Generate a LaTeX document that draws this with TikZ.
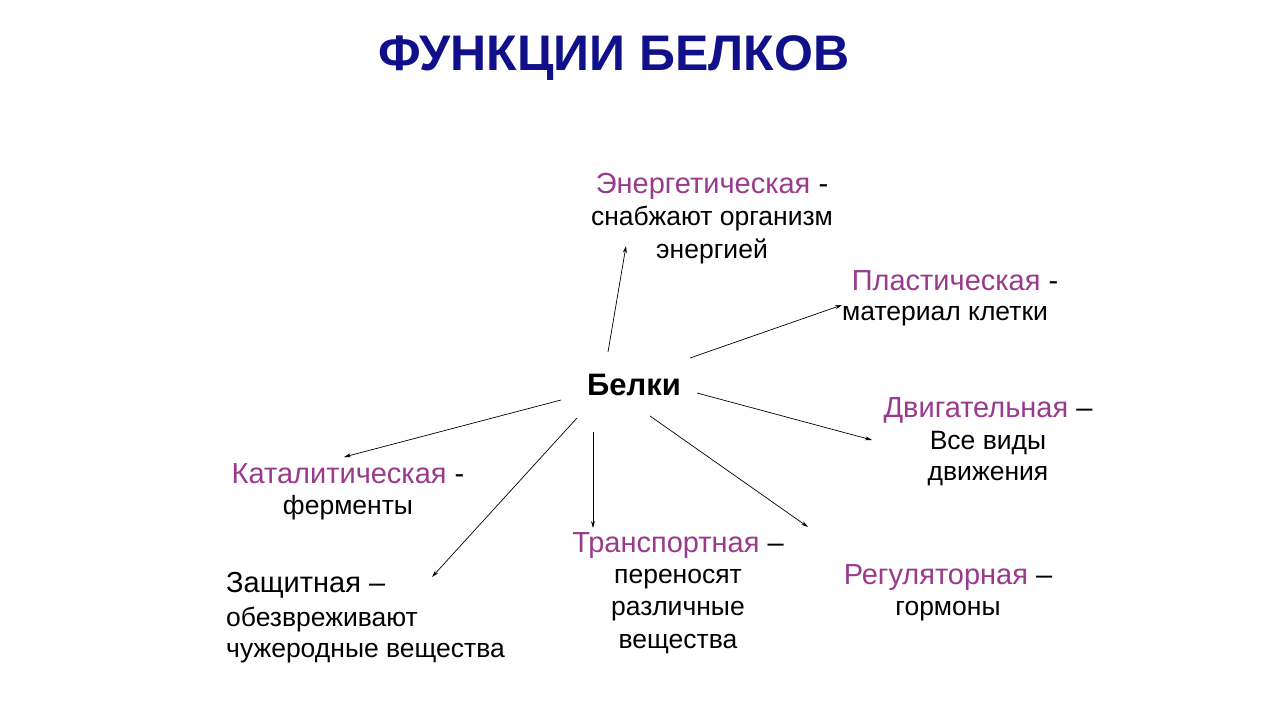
\documentclass[tikz,border=0pt]{standalone}
\usetikzlibrary{arrows.meta}
\usepackage{fontspec}
\setmainfont{Liberation Sans}
\definecolor{navy}{HTML}{10108A}
\definecolor{mag}{HTML}{993A8C}
\begin{document}
\begin{tikzpicture}[x=1pt,y=-1pt,
  t/.style={inner sep=0pt,font=\fontsize{26.5}{26.5}\selectfont},
  h/.style={inner sep=0pt,font=\fontsize{29}{29}\selectfont},
  arr/.style={-{Stealth[length=7pt,width=4pt]},line width=0.7pt}]
\useasboundingbox[fill=white] (0,0) rectangle (1280,720);
\node[inner sep=0pt,font=\bfseries\fontsize{50}{50}\selectfont,text=navy] (title) at (614,58) {ФУНКЦИИ БЕЛКОВ};
\node[inner sep=0pt,font=\bfseries\fontsize{31}{31}\selectfont] (b) at (634,385) {Белки};

\node[h] (e1) at (712,186) {\textcolor{mag}{Энергетическая} -};
\node[t] (e2) at (712,219) {снабжают организм};
\node[t] (e3) at (712,251) {энергией};

\node[h] (p1) at (955,281) {\textcolor{mag}{Пластическая} -};
\node[t] (p2) at (945,316) {материал клетки};

\node[h] (d1) at (988,410) {\textcolor{mag}{Двигательная} –};
\node[t] (d2) at (988,443) {Все виды};
\node[t] (d3) at (988,476) {движения};

\node[h] (k1) at (348,474) {\textcolor{mag}{Каталитическая} -};
\node[t] (k2) at (348,508) {ферменты};

\node[h] (tr1) at (678,546) {\textcolor{mag}{Транспортная} –};
\node[t] (tr2) at (678,579) {переносят};
\node[t] (tr3) at (678,611) {различные};
\node[t] (tr4) at (678,644) {вещества};

\node[h] (r1) at (948,578) {\textcolor{mag}{Регуляторная} –};
\node[t] (r2) at (948,611) {гормоны};

\node[h,anchor=west] (z1) at (226,585) {Защитная –};
\node[t,anchor=west] (z2) at (226,620) {обезвреживают};
\node[t,anchor=west] (z3) at (226,653) {чужеродные вещества};

\coordinate (s1) at (608,352); \coordinate (e) at (626,246);
\coordinate (s2) at (690,358); \coordinate (p) at (842,305);
\coordinate (s3) at (697,393); \coordinate (d) at (872,440);
\coordinate (s4) at (650,416); \coordinate (r) at (808,527);
\coordinate (s5) at (593,432); \coordinate (tr) at (593,528);
\coordinate (s6) at (577,418); \coordinate (z) at (432,577);
\coordinate (s7) at (561,400); \coordinate (k) at (344,457);
\foreach \a/\b in {s1/e,s2/p,s3/d,s4/r,s5/tr,s6/z,s7/k} \draw[arr] (\a) -- (\b);
\end{tikzpicture}
\end{document}
